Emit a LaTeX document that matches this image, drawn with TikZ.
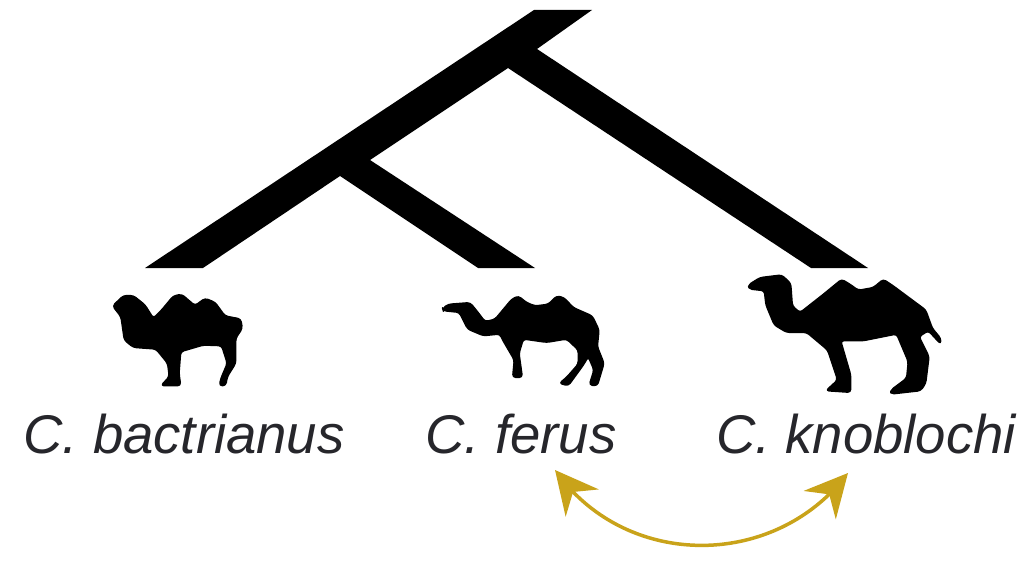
\documentclass[tikz,border=0pt]{standalone}
\usepackage{fontspec}
\setmainfont{Liberation Sans}
\usepackage{xcolor}
\usepackage{tikz}
\usetikzlibrary{arrows.meta, positioning, bending}
\definecolor{hybridgold}{HTML}{C9A31A}
\definecolor{labelgray}{HTML}{26262B}

\begin{document}
\begin{tikzpicture}[
    x=1pt, y=-1pt,
    species/.style={anchor=base, inner sep=0pt, text=labelgray, font=\fontsize{54.5}{60}\selectfont\itshape},
    silhouette/.style={fill=black, draw=black, line width=1.5pt, line join=round, rounded corners=3pt},
    branch/.style={fill=black},
    arrow/.style={{Stealth[length=15mm, width=15mm, inset=5mm, flex]}-{Stealth[length=15mm, width=15mm, inset=5mm, flex]}, line width=3.5pt, hybridgold}
]
\useasboundingbox (0,0) rectangle (1028,564);

% Tree
\fill[branch] (534,10) -- (592,10) -- (537,49) -- (868,268) -- (811,268) -- (508,68)
    -- (370,160) -- (535,268) -- (478,268) -- (340,176) -- (203,268) -- (145,268) -- cycle;

% Camels
\begin{scope}[shift={(90,260)}, x=0.3333pt, y=-0.3333pt]
\draw[silhouette] (68,138) -- (100,107) -- (130,107) -- (165,135) -- (190,175) -- (215,150) -- (250,108) -- (275,103)
    -- (295,120) -- (315,137) -- (345,115) -- (375,127) -- (405,168) -- (452,177) -- (457,205) -- (437,235) -- (437,310)
    -- (412,350) -- (407,377) -- (388,377) -- (393,355) -- (412,310) -- (395,257) -- (340,255) -- (272,275) -- (267,340)
    -- (272,377) -- (213,377) -- (238,350) -- (233,310) -- (198,267) -- (130,262) -- (103,240) -- (93,170) -- cycle;
\end{scope}
\begin{scope}[shift={(420,260)}, x=0.3333pt, y=-0.3333pt]
\draw[silhouette] (68,145) -- (85,133) -- (150,128) -- (170,152) -- (195,185) -- (225,178) -- (275,118) -- (295,108)
    -- (320,128) -- (345,138) -- (385,133) -- (410,108) -- (432,113) -- (460,143) -- (517,168) -- (537,210) -- (532,260)
    -- (552,310) -- (532,377) -- (508,375) -- (522,330) -- (505,290) -- (490,315) -- (445,377) -- (418,370) -- (440,352)
    -- (475,312) -- (475,270) -- (440,237) -- (380,247) -- (310,237) -- (297,280) -- (307,352) -- (278,352) -- (283,300)
    -- (248,240) -- (240,222) -- (190,227) -- (143,207) -- (118,157) -- (70,152) -- cycle;
\end{scope}
\begin{scope}[shift={(730,250)}, x=0.3333pt, y=-0.3333pt]
\draw[silhouette] (55,105) -- (90,83) -- (155,75) -- (182,100) -- (187,168) -- (210,188) -- (280,133) -- (335,88)
    -- (360,103) -- (385,121) -- (430,113) -- (460,88) -- (490,108) -- (587,180) -- (607,235) -- (632,265) -- (632,282)
    -- (595,242) -- (567,260) -- (597,320) -- (587,400) -- (572,422) -- (483,432) -- (483,420) -- (530,385) -- (535,335)
    -- (500,252) -- (400,272) -- (332,272) -- (362,375) -- (362,427) -- (288,422) -- (323,390) -- (293,300) -- (230,247)
    -- (170,247) -- (133,225) -- (108,165) -- (103,122) -- (58,117) -- cycle;
\end{scope}

% Labels
\node[species] (bactrianus) at (184,453) {C. bactrianus};
\node[species] (ferus) at (521,453) {C. ferus};
\node[species] (knoblochi) at (866,453) {C. knoblochi};

% Arrow
\coordinate (ferusend) at (555,470);
\coordinate (knoblochiend) at (848,473);
\draw[arrow] (ferusend) .. controls (625,570) and (775,570) .. (knoblochiend);

\end{tikzpicture}
\end{document}
